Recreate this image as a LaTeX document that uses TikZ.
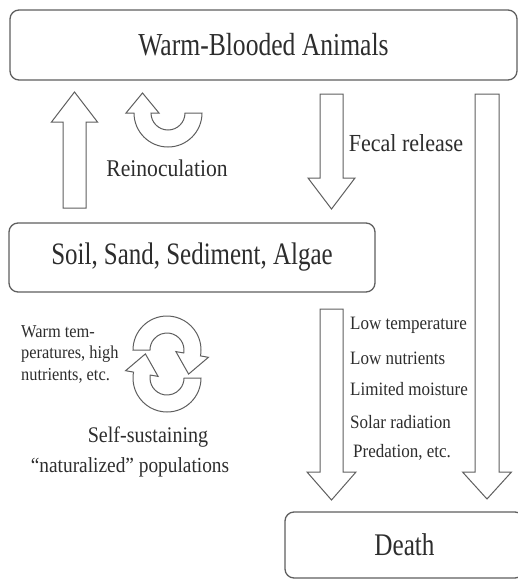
\documentclass[tikz,border=0pt]{standalone}
\usepackage{fontspec}
\setmainfont{Liberation Serif}
\newfontfamily\boxfont{Liberation Serif}[FakeStretch=0.8]
\newfontfamily\labfont{Liberation Serif}[FakeStretch=0.9]
\definecolor{linegray}{RGB}{95,95,95}
\definecolor{textgray}{RGB}{45,45,45}
\newcommand{\mydownarrow}[6]{%
  \draw[blockarrow] ({#1-#5},#2) -- ({#1+#5},#2) -- ({#1+#5},#3) -- ({#1+#6},#3) -- (#1,#4) -- ({#1-#6},#3) -- ({#1-#5},#3) -- cycle;}
\begin{document}
\begin{tikzpicture}[x=1pt,y=-1pt,
  box/.style={draw=linegray, line width=1.3pt, rounded corners=9pt, fill=white, inner sep=0pt, text=textgray},
  blockarrow/.style={draw=linegray, line width=1pt, fill=white, line join=miter},
  txt/.style={text=textgray, inner sep=0pt},
  listtxt/.style={txt, anchor=west, font=\labfont\fontsize{18.9}{22}\selectfont}]
\useasboundingbox (0,0) rectangle (518,581);
% boxes
\node[box, minimum width=507pt, minimum height=70pt, font=\boxfont\fontsize{32}{36}\selectfont] (wba) at (263.5,45) {Warm-Blooded Animals};
\node[box, minimum width=366pt, minimum height=69pt, font=\boxfont\fontsize{31.2}{36}\selectfont] (soil) at (192,257.5) {Soil, Sand, Sediment, Algae};
\node[box, minimum width=239pt, minimum height=66pt, font=\boxfont\fontsize{31.5}{36}\selectfont] (death) at (404.5,545) {Death};
% straight block arrows
\mydownarrow{74.5}{208}{122}{92}{11.5}{23}
\mydownarrow{331.5}{94}{178}{209}{11.5}{23.5}
\mydownarrow{331.5}{309}{472}{500}{11.5}{24.5}
\mydownarrow{487}{94}{472}{499}{12}{24.5}
% reinoculation curved arrow
\draw[blockarrow] (202,113) arc[start angle=0, end angle=-180, radius=34pt] -- (126,113) -- (142.5,93) -- (159,113) -- (151,113) arc[start angle=180, end angle=360, radius=17pt] -- cycle;
% cycle arrows
\draw[blockarrow] (133,350) arc[start angle=180, end angle=-10, radius=34pt] -- (208.4,357.3) -- (188.6,374.1) -- (175.9,351.6) -- (183.74,352.95) arc[start angle=-10, end angle=180, radius=17pt] -- cycle;
\draw[blockarrow] (201,378) arc[start angle=0, end angle=-190, radius=34pt] -- (125.6,370.7) -- (145.4,353.9) -- (158.1,376.4) -- (150.26,375.05) arc[start angle=170, end angle=360, radius=17pt] -- cycle;
% labels
\node[txt, font=\labfont\fontsize{24}{28}\selectfont] (reino) at (167,168) {Reinoculation};
\node[txt, font=\labfont\fontsize{24.5}{28}\selectfont] (fecal) at (406,143) {Fecal release};
\node[listtxt] (l1) at (350,325) {Low temperature};
\node[listtxt] (l2) at (350,358) {Low nutrients};
\node[listtxt] (l3) at (350,389) {Limited moisture};
\node[listtxt] (l4) at (350,422) {Solar radiation};
\node[listtxt] (l5) at (353,452) {Predation, etc.};
\node[txt, anchor=west, align=left, font=\labfont\fontsize{18.2}{21.5}\selectfont] (warm) at (21,354) {Warm tem-\\peratures, high\\nutrients, etc.};
\node[txt, font=\labfont\fontsize{22.3}{26}\selectfont] (self) at (148,437) {Self-sustaining};
\node[txt, font=\labfont\fontsize{21.5}{26}\selectfont] (nat) at (130,467) {“naturalized” populations};
\end{tikzpicture}
\end{document}
